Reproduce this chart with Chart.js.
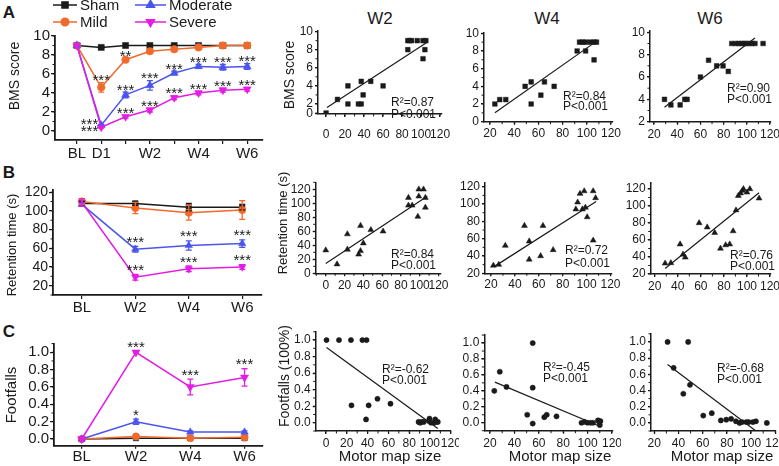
<!DOCTYPE html>
<html>
<head>
<meta charset="utf-8">
<script src="https://cdn.jsdelivr.net/npm/chart.js@4.4.1/dist/chart.umd.min.js"></script>
<style>
  html, body { margin: 0; padding: 0; background: #fff; }
  body { position: relative; width: 779px; height: 466px; overflow: hidden;
         font-family: "Liberation Sans", Arial, sans-serif; color: #1a1a1a; }
  canvas { position: absolute; }
  .tag { position: absolute; transform: translate(-50%, -50%); white-space: nowrap; line-height: 1; }
  .letter { font-weight: bold; font-size: 17px; }
  .head { font-size: 17px; }
</style>
</head>
<body>
<div class="tag letter" style="left:9px;top:12px">A</div>
<div class="tag letter" style="left:9px;top:172px">B</div>
<div class="tag letter" style="left:9px;top:331px">C</div>
<div class="tag head" style="left:380px;top:18px">W2</div>
<div class="tag head" style="left:547px;top:18px">W4</div>
<div class="tag head" style="left:710px;top:18px">W6</div>
<script>
const FONT = '"Liberation Sans", Arial, sans-serif';
const INK = '#1a1a1a';
Chart.defaults.font.family = FONT;

// groups of the time-course panels
const groups = ['Sham', 'Mild', 'Moderate', 'Severe'];
const groupColor = ['#1a1a1a', '#f06a2c', '#4a55ec', '#e41de4'];
const groupMarker = ['rect', 'circle', 'triangle', 'triangle'];
const groupTurn = [0, 0, 0, 180];

// A - BMS score
const bmsCats = ['BL', 'D1', '', 'W2', '', 'W4', '', 'W6'];
const bmsSham = [9, 8.8, 9, 9, 9, 9, 9, 9];
const bmsMild = [9, 4.6, 7.5, 8.4, 8.6, 8.8, 9, 9];
const bmsModerate = [9, 0.6, 3.8, 4.8, 6.1, 6.8, 6.7, 6.8];
const bmsSevere = [9, 0.4, 1.5, 2.2, 3.5, 4.0, 4.3, 4.4];
const bmsShamErr = [0, 0.1, 0, 0, 0, 0, 0, 0];
const bmsMildErr = [0, 0.5, 0.15, 0.15, 0.1, 0.1, 0.1, 0.1];
const bmsModerateErr = [0, 0.1, 0.3, 0.5, 0.2, 0.2, 0.3, 0.3];
const bmsSevereErr = [0, 0.1, 0.15, 0.2, 0.2, 0.2, 0.2, 0.2];
const bmsMildStars = ['', '***', '**', '', '', '', '', ''];
const bmsModerateStars = ['', '***', '***', '***', '***', '***', '***', '***'];
const bmsSevereStars = ['', '***', '***', '***', '***', '***', '***', '***'];

// B - retention time
const retCats = ['BL', 'W2', 'W4', 'W6'];
const retSham = [108, 108, 104, 104];
const retMild = [110, 103, 98, 101];
const retModerate = [107, 59, 63, 65];
const retSevere = [109, 29, 38, 40];
const retShamErr = [2, 2, 4, 3];
const retMildErr = [3, 6, 8, 10];
const retModerateErr = [2, 3, 5, 4];
const retSevereErr = [4, 3, 3, 2.5];
const retModerateStars = ['', '***', '***', '***'];
const retSevereStars = ['', '***', '***', '***'];

// C - footfalls
const footCats = ['BL', 'W2', 'W4', 'W6'];
const footSham = [0, 0.01, 0.01, 0.01];
const footMild = [0, 0.03, 0.01, 0.02];
const footModerate = [0, 0.2, 0.08, 0.08];
const footSevere = [0, 1.0, 0.6, 0.71];
const footModerateErr = [0, 0.03, 0.015, 0.015];
const footSevereErr = [0, 0.01, 0.09, 0.1];
const footModerateStars = ['', '*', '', ''];
const footSevereStars = ['', '***', '***', '***'];

// correlations with motor map size
const w2BmsX = [0, 12, 23, 23, 34, 37, 37, 39, 47, 60, 86, 86, 88, 90, 96, 102, 105, 102, 104];
const w2BmsY = [1, 2.5, 4, 2, 2, 2, 4.5, 3, 4.5, 4, 8, 9, 9, 9, 9, 9, 9, 7, 8];
const w2BmsFitX = [1, 106];
const w2BmsFitY = [1.6, 8.8];
const w4BmsX = [24, 28, 33, 49, 54, 54, 62, 65, 73, 92, 94, 96.5, 99, 103, 99, 106, 108, 106];
const w4BmsY = [2, 2.5, 2.5, 4, 4.5, 2, 3, 4.5, 4, 8, 9, 9, 9, 9, 8, 9, 9, 7];
const w4BmsFitX = [24, 107];
const w4BmsFitY = [1.0, 9.0];
const w6BmsX = [29, 34.5, 42.5, 46.5, 48.5, 60, 67, 74, 79.5, 84, 87, 90.5, 93, 95.5, 97.5, 99.5, 102, 104.5, 107, 114];
const w6BmsY = [4, 3.5, 3.5, 4, 4, 6, 7.5, 7, 7, 6.5, 9, 9, 9, 9, 9, 9, 9, 9, 9, 9];
const w6BmsFitX = [29, 107];
const w6BmsFitY = [3.3, 9.5];

const w2RetX = [0, 12, 23, 23, 35, 37, 37, 40, 48, 61, 88, 88, 92, 98, 99, 99, 104, 106, 106];
const w2RetY = [33, 13, 56, 34, 27, 68, 32, 43, 62, 60, 108, 97, 97, 81, 120, 110, 120, 108, 94];
const w2RetFitX = [0, 108];
const w2RetFitY = [14, 110];
const w4RetX = [22, 26.5, 32, 48, 52, 52, 61.5, 63.5, 72, 91, 92.5, 94.5, 96.5, 98, 99, 100.5, 105.5, 105.5, 107.5];
const w4RetY = [29, 30, 52, 75, 57, 36, 40, 75, 47, 94, 102, 112, 94, 115, 96, 85, 115, 58, 107];
const w4RetFitX = [23, 108];
const w4RetFitY = [28, 103];
const w6RetX = [29, 34, 42, 44.5, 46.5, 58.5, 65.5, 72, 77, 81.5, 85, 88, 90.5, 92.5, 94.5, 96, 97, 100, 102.5, 110.5];
const w6RetY = [32.5, 33, 55, 43, 39.5, 80, 75, 68.5, 50, 54, 55, 70.5, 95, 112, 115, 118, 120, 116, 120, 109];
const w6RetFitX = [29, 110.5];
const w6RetFitY = [26.5, 115.5];

const w2FootX = [0.5, 12.5, 24, 35, 39, 24.5, 38.5, 41, 49.5, 62, 89, 90.5, 92, 94, 99.5, 101, 105, 106, 107.5, 99, 104];
const w2FootY = [1, 1, 1, 1, 1, 0.21, 0.04, 0.21, 0.29, 0.23, 0.01, 0, 0.01, 0.01, 0.05, 0, 0.04, 0.01, 0.01, 0.02, 0];
const w2FootFitX = [0.5, 107.5];
const w2FootFitY = [0.91, -0.07];
const w4FootX = [23.5, 28, 33.5, 50.5, 55, 55, 55, 64.5, 66.5, 74.5, 95, 97.5, 100, 102.5, 104.5, 108.5, 109.5, 110.5, 110];
const w4FootY = [0.40, 0.64, 0.45, 0.10, 1.0, 0.44, -0.01, 0.07, 0.10, 0.08, 0, 0.01, 0, 0, 0, 0.03, 0.01, 0.02, -0.03];
const w4FootFitX = [24, 111];
const w4FootFitY = [0.51, -0.05];
const w6FootX = [31, 48, 36, 44, 49.5, 60.5, 67.5, 75, 79.5, 83.5, 87.5, 90.5, 92.5, 96, 98, 101.5, 104, 113];
const w6FootY = [1, 1, 0.68, 0.36, 0.47, 0.09, 0.12, 0.03, 0.04, 0.05, 0.02, 0, 0.01, 0.01, 0.01, 0.01, 0.02, 0];
const w6FootFitX = [31, 104];
const w6FootFitY = [0.72, -0.1];

const r2Bms = ['0.87', '0.84', '0.90'];
const r2Ret = ['0.84', '0.72', '0.76'];
const r2Foot = ['-0.62', '-0.45', '-0.68'];

// error bars, significance stars, minor ticks, legend and free text
Chart.register({
    id: 'deco',
    afterDatasetsDraw(chart) {
        const d = chart.canvas.$deco, ctx = chart.ctx;
        const xs = chart.scales.x, ys = chart.scales.y;
        ctx.save();
        chart.data.datasets.forEach(ds => {
            ds.data.forEach((p, i) => {
                const e = ds.errors ? ds.errors[i] : 0;
                const px = xs.getPixelForValue(p.x);
                if (e) {
                    const y1 = ys.getPixelForValue(p.y + e), y2 = ys.getPixelForValue(p.y - e);
                    ctx.strokeStyle = ds.borderColor;
                    ctx.lineWidth = 1.3;
                    ctx.beginPath();
                    ctx.moveTo(px, y1); ctx.lineTo(px, y2);
                    ctx.moveTo(px - 3, y1); ctx.lineTo(px + 3, y1);
                    ctx.moveTo(px - 3, y2); ctx.lineTo(px + 3, y2);
                    ctx.stroke();
                }
                const s = ds.stars && ds.stars[i];
                if (!s) return;
                ctx.fillStyle = INK;
                ctx.font = '15px ' + FONT;
                ctx.textBaseline = 'alphabetic';
                if (ds.starLeft && ds.starLeft[i] !== undefined) {
                    ctx.textAlign = 'right';
                    ctx.fillText(s, px - 3, ys.getPixelForValue(p.y) + 8.5 + ds.starLeft[i]);
                } else {
                    ctx.textAlign = 'center';
                    ctx.fillText(s, px, ys.getPixelForValue(p.y + e) + d.starGap);
                }
            });
        });
        ctx.restore();
    },
    afterDraw(chart) {
        const d = chart.canvas.$deco, ctx = chart.ctx, a = chart.chartArea;
        ctx.save();
        (d.minor || []).forEach(m => {
            const s = chart.scales[m[0]], step = m[1];
            ctx.strokeStyle = INK;
            ctx.lineWidth = 1;
            ctx.beginPath();
            for (let k = Math.ceil(s.min / step - 1e-6); k * step <= s.max + 1e-6; k++) {
                const p = s.getPixelForValue(k * step);
                if (m[0] === 'y') { ctx.moveTo(a.left, p); ctx.lineTo(a.left - 2.5, p); }
                else { ctx.moveTo(p, a.bottom); ctx.lineTo(p, a.bottom + 2.5); }
            }
            ctx.stroke();
        });
        (d.legend || []).forEach(l => {
            const g = l.g, y = l.y - d.top;
            ctx.strokeStyle = groupColor[g];
            ctx.fillStyle = groupColor[g];
            ctx.lineWidth = 1.5;
            ctx.beginPath();
            ctx.moveTo(l.x1 - d.left, y); ctx.lineTo(l.x2 - d.left, y);
            ctx.stroke();
            Chart.helpers.drawPoint(ctx, {pointStyle: groupMarker[g], radius: l.r, rotation: groupTurn[g], borderWidth: 0.5},
                (l.x1 + l.x2) / 2 - d.left, y);
            ctx.fillStyle = INK;
            ctx.font = '15px ' + FONT;
            ctx.textAlign = 'left';
            ctx.textBaseline = 'middle';
            ctx.fillText(groups[g], l.x2 + 3 - d.left, y + 1);
        });
        (d.texts || []).forEach(t => {
            ctx.save();
            ctx.translate(t.x - d.left, t.y - d.top);
            if (t.rot) ctx.rotate(t.rot * Math.PI / 180);
            ctx.font = t.size + 'px ' + FONT;
            ctx.fillStyle = INK;
            ctx.textAlign = t.align || 'center';
            ctx.textBaseline = 'middle';
            ctx.fillText(t.text, 0, 0);
            ctx.restore();
        });
        ctx.restore();
    }
});

function axis(min, max, ticks, o) {
    o = o || {};
    return {
        type: 'linear', min: min, max: max,
        border: {color: INK, width: o.bw || 1.5},
        grid: {drawOnChartArea: false, color: INK, lineWidth: 1.2, tickLength: o.tl || 3},
        ticks: {color: INK, font: {family: FONT, size: o.fs || 12}, padding: o.pad || 0,
                maxRotation: 0, autoSkip: false, callback: o.label || (v => v)},
        afterBuildTicks: s => { s.ticks = ticks.map(v => ({value: v})); }
    };
}

// area = plot box on the page, plus room for the axes around it
function panel(area, x, y, datasets, deco) {
    const left = Math.floor(area.L - area.yw), top = Math.floor(area.T - area.pt);
    const w = Math.ceil(area.R + area.pr) - left, h = Math.ceil(area.B + area.xh) - top;
    const cv = document.createElement('canvas');
    cv.width = w; cv.height = h;
    cv.style.left = left + 'px'; cv.style.top = top + 'px';
    cv.style.width = w + 'px'; cv.style.height = h + 'px';
    cv.$deco = Object.assign({left: left, top: top, starGap: 0}, deco);
    document.body.appendChild(cv);
    const fix = size => s => {
        if (s.isHorizontal()) s.height = size; else s.width = size;
        s.paddingLeft = s.paddingRight = s.paddingTop = s.paddingBottom = 0;
    };
    x.afterFit = fix(top + h - area.B);
    y.afterFit = fix(area.L - left);
    return new Chart(cv, {
        type: 'scatter',
        data: {datasets: datasets},
        options: {
            responsive: false, animation: false, devicePixelRatio: 1,
            layout: {padding: {left: 0, bottom: 0, top: area.T - top, right: left + w - area.R}},
            plugins: {legend: {display: false}, tooltip: {enabled: false}},
            scales: {x: x, y: y}
        }
    });
}

function course(series, errs, stars, r) {
    return series.map((vals, g) => ({
        data: vals.map((v, i) => ({x: i, y: v})),
        showLine: true, borderColor: groupColor[g], backgroundColor: groupColor[g],
        borderWidth: 1.5, pointStyle: groupMarker[g], pointRotation: groupTurn[g],
        pointRadius: r[g], pointHoverRadius: r[g], pointBorderWidth: 0.5,
        errors: errs[g], stars: stars[g], order: 3 - g
    }));
}

function dots(xs, ys, style, r) {
    return {data: xs.map((x, i) => ({x: x, y: ys[i]})), pointStyle: style, pointRadius: r,
            pointHoverRadius: r, backgroundColor: INK, borderColor: INK, pointBorderWidth: 0.5, order: 1};
}

function trend(xs, ys) {
    return {data: xs.map((x, i) => ({x: x, y: ys[i]})), showLine: true, pointRadius: 0,
            borderColor: INK, borderWidth: 1.2, order: 0};
}

function stats(r2, x, y, dy) {
    return [{text: 'R\u00B2=' + r2, x: x, y: y, size: 12, align: 'left'},
            {text: 'P<0.001', x: x, y: y + dy, size: 12, align: 'left'}];
}

const motorTicks = [0, 20, 40, 60, 80, 100, 120];
const motorTicks20 = [20, 40, 60, 80, 100, 120];
const oneDec = v => v.toFixed(1);
const footTicks = [0, 0.2, 0.4, 0.6, 0.8, 1.0];

// ---- row A
const aSets = course([bmsSham, bmsMild, bmsModerate, bmsSevere],
    [bmsShamErr, bmsMildErr, bmsModerateErr, bmsSevereErr],
    [null, bmsMildStars, bmsModerateStars, bmsSevereStars], [4.3, 3.8, 4.6, 4.6]);
aSets[2].starLeft = {1: -5};
aSets[3].starLeft = {1: 0};
panel({L: 55, T: 36, R: 263, B: 140, yw: 50, pt: 36, pr: 10, xh: 26},
    axis(-0.9, 7.65, [0, 1, 2, 3, 4, 5, 6, 7], {fs: 15, tl: 4, pad: 1, bw: 1.8, label: v => bmsCats[v]}),
    axis(-0.95, 10, [0, 2, 4, 6, 8, 10], {fs: 15, tl: 4, pad: 1, bw: 1.8}),
    aSets,
    {starGap: 2.5, minor: [['y', 1]],
     legend: [{g: 0, x1: 53, x2: 77, y: 5, r: 4.3}, {g: 1, x1: 53, x2: 77, y: 22, r: 3.8},
              {g: 2, x1: 135, x2: 166, y: 5, r: 4.6}, {g: 3, x1: 135, x2: 166, y: 22, r: 4.6}],
     texts: [{text: 'BMS score', x: 15, y: 76, size: 14, rot: -90}]});

panel({L: 318, T: 30.7, R: 442, B: 114, yw: 36, pt: 10, pr: 8, xh: 24},
    axis(-8.5, 122, motorTicks, {pad: 10.8}),
    axis(0.89, 10.1, [0.89, 2, 4, 6, 8, 10], {pad: 2, label: v => v < 1 ? 0 : v}),
    [dots(w2BmsX, w2BmsY, 'rect', 3.3), trend(w2BmsFitX, w2BmsFitY)],
    {minor: [['y', 1], ['x', 10]],
     texts: [{text: 'BMS score', x: 290, y: 75, size: 14, rot: -90}].concat(stats(r2Bms[0], 391, 103, 12))});

panel({L: 484, T: 32.4, R: 612.2, B: 121.7, yw: 26, pt: 10, pr: 8, xh: 24},
    axis(15, 121, motorTicks20, {pad: 1.8}),
    axis(0, 10.1, [0, 2, 4, 6, 8, 10], {pad: 2}),
    [dots(w4BmsX, w4BmsY, 'rect', 3.3), trend(w4BmsFitX, w4BmsFitY)],
    {minor: [['y', 1], ['x', 10]], texts: stats(r2Bms[1], 563, 97, 10)});

panel({L: 650, T: 31.2, R: 770.6, B: 121.7, yw: 26, pt: 10, pr: 8, xh: 24},
    axis(16.5, 120.5, motorTicks20, {pad: 2.8}),
    axis(2, 10.1, [2, 4, 6, 8, 10], {pad: 2}),
    [dots(w6BmsX, w6BmsY, 'rect', 3.3), trend(w6BmsFitX, w6BmsFitY)],
    {minor: [['y', 1], ['x', 10]], texts: stats(r2Bms[2], 727, 89, 11)});

// ---- row B
panel({L: 53, T: 190.3, R: 262, B: 295, yw: 48, pt: 12, pr: 10, xh: 22},
    axis(-0.54, 3.37, [0, 1, 2, 3], {fs: 15, tl: 4, pad: 0, bw: 1.8, label: v => retCats[v]}),
    axis(10, 122, [20, 40, 60, 80, 100, 120], {fs: 14, tl: 4, pad: 1, bw: 1.8}),
    course([retSham, retMild, retModerate, retSevere],
        [retShamErr, retMildErr, retModerateErr, retSevereErr],
        [null, null, retModerateStars, retSevereStars], [3.8, 3.7, 4.3, 4.3]),
    {starGap: 0.5, minor: [['y', 10]],
     texts: [{text: 'Retention time (s)', x: 12, y: 245, size: 13, rot: -90}]});

panel({L: 315.7, T: 182.3, R: 440.4, B: 273.3, yw: 41, pt: 10, pr: 8, xh: 24},
    axis(-10.7, 122, motorTicks, {pad: 1.8}),
    axis(0, 130, [0, 20, 40, 60, 80, 100, 120], {pad: 2}),
    [dots(w2RetX, w2RetY, 'triangle', 3.4), trend(w2RetFitX, w2RetFitY)],
    {minor: [['y', 10], ['x', 10]],
     texts: [{text: 'Retention time (s)', x: 283, y: 223, size: 13, rot: -90}].concat(stats(r2Ret[0], 391, 255, 11))});

panel({L: 485, T: 182.4, R: 611.7, B: 273.3, yw: 26, pt: 10, pr: 8, xh: 24},
    axis(15, 121, motorTicks20, {pad: 1.5}),
    axis(20, 125, [20, 40, 60, 80, 100, 120], {pad: 2}),
    [dots(w4RetX, w4RetY, 'triangle', 3.4), trend(w4RetFitX, w4RetFitY)],
    {minor: [['y', 10], ['x', 10]], texts: stats(r2Ret[1], 565, 251, 13)});

panel({L: 650.7, T: 183, R: 770.6, B: 274, yw: 26, pt: 10, pr: 8, xh: 24},
    axis(16.5, 120.5, motorTicks20, {pad: 2.5}),
    axis(20, 127, [20, 40, 60, 80, 100, 120], {pad: 2}),
    [dots(w6RetX, w6RetY, 'triangle', 3.4), trend(w6RetFitX, w6RetFitY)],
    {minor: [['y', 10], ['x', 10]], texts: stats(r2Ret[2], 730, 256, 11)});

// ---- row C
panel({L: 54, T: 343.6, R: 263, B: 445.7, yw: 50, pt: 12, pr: 10, xh: 21},
    axis(-0.51, 3.34, [0, 1, 2, 3], {fs: 15, tl: 3, pad: -1, bw: 1.8, label: v => footCats[v]}),
    axis(-0.077, 1.1, footTicks, {fs: 15, tl: 4, pad: 1, bw: 1.8, label: oneDec}),
    course([footSham, footMild, footModerate, footSevere],
        [null, null, footModerateErr, footSevereErr],
        [null, null, footModerateStars, footSevereStars], [3.8, 3.7, 4.3, 4.7]),
    {starGap: 0.5, minor: [['y', 0.1]],
     texts: [{text: 'Footfalls', x: 12, y: 395, size: 15, rot: -90}]});

const mapTitle = x => ({text: 'Motor map size', x: x, y: 457, size: 15});

panel({L: 315.7, T: 331.8, R: 450.8, B: 431, yw: 40, pt: 10, pr: 8, xh: 36},
    axis(-9.9, 120, motorTicks, {pad: 2.8}),
    axis(-0.1, 1.1, footTicks, {pad: 2, label: oneDec}),
    [dots(w2FootX, w2FootY, 'circle', 2.6), trend(w2FootFitX, w2FootFitY)],
    {minor: [['y', 0.1], ['x', 10]],
     texts: [{text: 'Footfalls (100%)', x: 285, y: 376, size: 14, rot: -90}, mapTitle(390)]
        .concat(stats(r2Foot[0], 382, 370, 11))});

panel({L: 484.3, T: 335.1, R: 612.6, B: 430.7, yw: 26, pt: 10, pr: 8, xh: 36},
    axis(15.3, 120.5, motorTicks20, {pad: 2.4}),
    axis(-0.1, 1.1, footTicks, {pad: 2, label: oneDec}),
    [dots(w4FootX, w4FootY, 'circle', 2.6), trend(w4FootFitX, w4FootFitY)],
    {minor: [['y', 0.1], ['x', 10]], texts: [mapTitle(560)].concat(stats(r2Foot[1], 543, 368, 11))});

panel({L: 651, T: 333.8, R: 775.3, B: 431, yw: 26, pt: 10, pr: 4, xh: 36},
    axis(17.3, 120, motorTicks20, {pad: 2.8}),
    axis(-0.1, 1.1, footTicks, {pad: 2, label: oneDec}),
    [dots(w6FootX, w6FootY, 'circle', 2.6), trend(w6FootFitX, w6FootFitY)],
    {minor: [['y', 0.1], ['x', 10]], texts: [mapTitle(722)].concat(stats(r2Foot[2], 717, 369, 11))});
</script>
</body>
</html>
